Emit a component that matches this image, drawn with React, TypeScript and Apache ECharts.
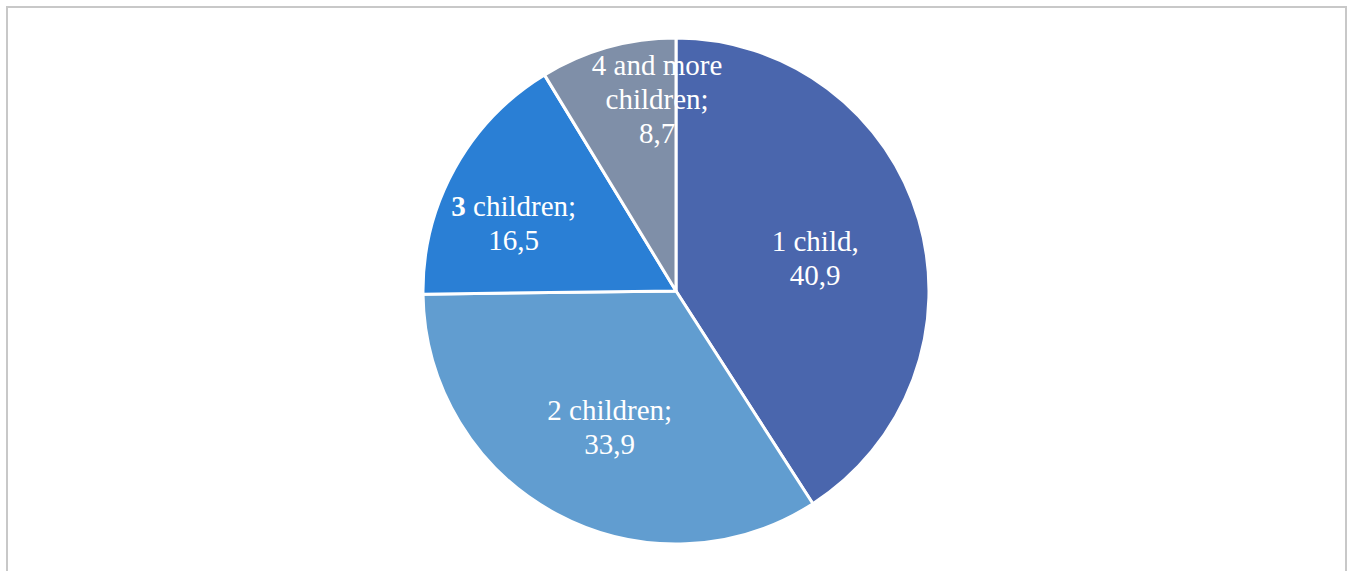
import React, { useEffect, useRef } from "react";
import * as echarts from "echarts";

const categories = ["1 child", "2 children", "3 children", "4 and more children"];
const values = [40.9, 33.9, 16.5, 8.7];
const labelTexts = [
  "1 child,\n40,9",
  "2 children;\n33,9",
  "{b|3} children;\n16,5",
  "4 and more\nchildren;\n8,7",
];
const colors = ["#4a66ad", "#619dd0", "#2a7fd5", "#7f8fa8"];
const labelOffsets = [
  [15, 4],
  [-5, 22],
  [-49, -5],
  [16, -67],
];

const FONT = "'Liberation Serif', 'Times New Roman', serif";

export default function App() {
  const ref = useRef<HTMLDivElement>(null);
  useEffect(() => {
    if (!ref.current) return;
    const chart = echarts.init(ref.current, undefined, { renderer: "svg" });
    chart.setOption({
      animation: false,
      backgroundColor: "transparent",
      series: [
        {
          type: "pie",
          center: [676, 291],
          radius: 253,
          startAngle: 90,
          clockwise: true,
          avoidLabelOverlap: false,
          itemStyle: { borderColor: "#ffffff", borderWidth: 3 },
          label: {
            show: true,
            position: "inside",
            color: "#ffffff",
            fontFamily: FONT,
            fontSize: 29,
            lineHeight: 34,
            align: "center",
            formatter: (p: any) => labelTexts[p.dataIndex],
            rich: {
              b: {
                fontWeight: "bold",
                fontFamily: FONT,
                fontSize: 29,
                lineHeight: 34,
                color: "#ffffff",
              },
            },
          },
          labelLine: { show: false },
          labelLayout: (p: any) => ({
            dx: labelOffsets[p.dataIndex][0],
            dy: labelOffsets[p.dataIndex][1],
          }),
          emphasis: { disabled: true },
          data: categories.map((c, i) => ({
            name: c,
            value: values[i],
            itemStyle: { color: colors[i] },
          })),
        },
      ],
    });
    return () => chart.dispose();
  }, []);
  return (
    <div
      style={{
        position: "absolute",
        left: 0,
        top: 0,
        width: 1351,
        height: 571,
        overflow: "hidden",
        background: "#ffffff",
      }}
    >
      <div
        style={{
          position: "absolute",
          left: 6,
          top: 6,
          width: 1337,
          height: 700,
          border: "2px solid #c8c8c8",
        }}
      />
      <div
        ref={ref}
        style={{ position: "absolute", left: 0, top: 0, width: 1351, height: 571 }}
      />
    </div>
  );
}
